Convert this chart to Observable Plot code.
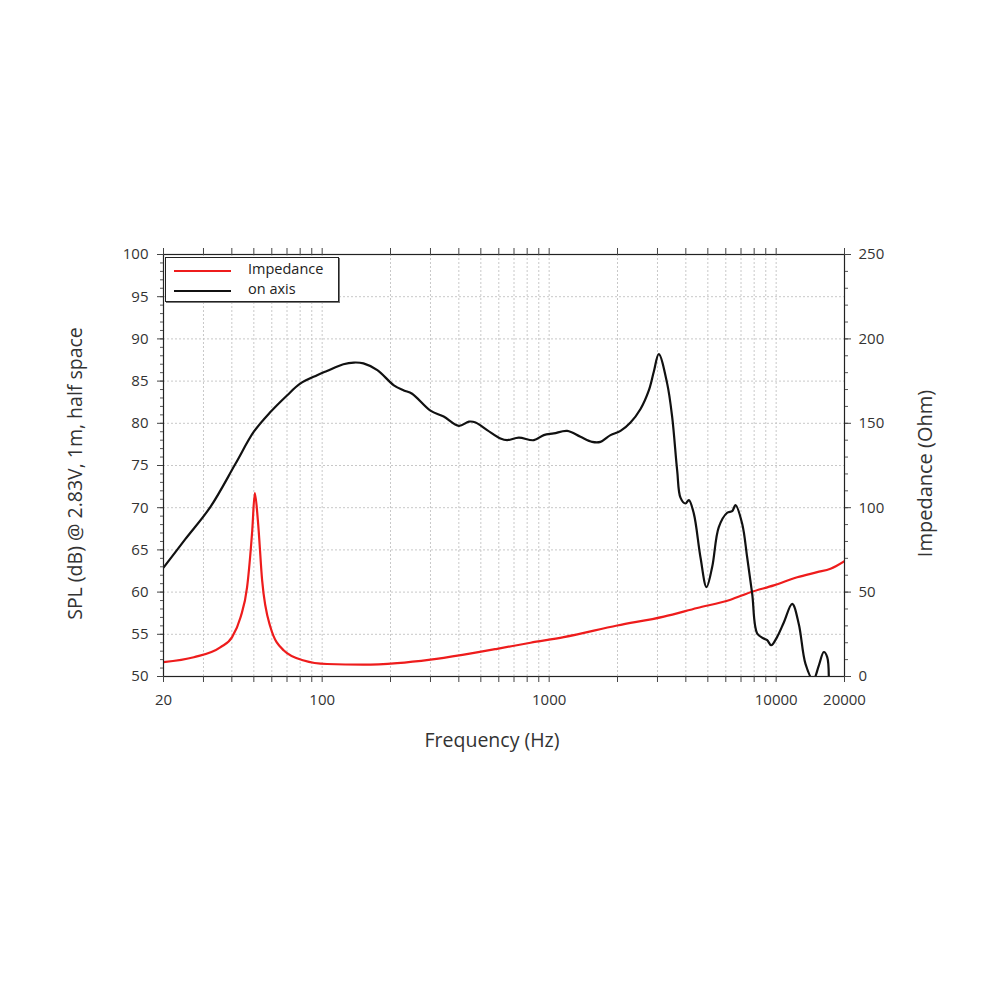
<!DOCTYPE html>
<html>
<head>
<meta charset="utf-8">
<script src="https://cdn.jsdelivr.net/npm/d3@7"></script>
<script src="https://cdn.jsdelivr.net/npm/@observablehq/plot@0.6"></script>
<style>
  body { margin: 0; background: #fff; font-family: "Open Sans", sans-serif; }
  #wrap { position: relative; width: 1000px; height: 1000px; }
  #legend { position: absolute; left: 165px; top: 257px; width: 172px; height: 43px;
            border: 1px solid #222; background: #fff; box-shadow: 1px 1px 0 #777;
            font-size: 14.5px; color: #222; }
  #legend .row { position: absolute; left: 0; height: 18px; width: 100%; }
  #legend .sw { position: absolute; left: 8px; width: 57px; height: 0; top: 9px; border-top: 2.5px solid; }
  #legend .lb { position: absolute; left: 82px; top: -1px; line-height: 18px; }
</style>
</head>
<body>
<div id="wrap"></div>
<script>
// ---- data ----
const splFreq = [20, 25, 32.2, 41.5, 50, 59, 70, 80, 95, 105, 124, 138, 152, 175, 207, 229, 249, 300, 343, 400, 443, 474, 533, 610, 653, 735, 856, 947, 1048, 1201, 1374, 1547, 1683, 1863, 2062, 2282, 2526, 2748, 2890, 3040, 3311, 3484, 3664, 3788, 3988, 4124, 4338, 4642, 4934, 5228, 5588, 6086, 6402, 6620, 7084, 7454, 7842, 8250, 8820, 9130, 9508, 10104, 10806, 11768, 12584, 13464, 14560, 15412, 16212, 16782, 17056];
const splDb   = [62.9, 66.3, 70.1, 75.2, 79.0, 81.3, 83.3, 84.7, 85.7, 86.2, 87.0, 87.2, 87.1, 86.3, 84.5, 83.9, 83.5, 81.5, 80.8, 79.7, 80.2, 80.1, 79.2, 78.2, 78.0, 78.3, 78.0, 78.6, 78.8, 79.1, 78.4, 77.8, 77.8, 78.6, 79.1, 80.1, 81.7, 83.9, 86.1, 88.2, 84.7, 80.7, 74.4, 71.2, 70.5, 70.9, 69.3, 64.1, 60.6, 63.0, 67.7, 69.4, 69.6, 70.3, 68.1, 64.1, 59.8, 55.1, 54.5, 54.3, 53.7, 54.7, 56.4, 58.6, 56.2, 51.5, 49.6, 51.3, 52.9, 52.3, 49.0];

const impFreq = [20, 27.2, 35.7, 40.1, 43.7, 46.7, 49.2, 50.5, 52.1, 54.4, 59.2, 67.8, 83, 105, 152, 214, 300, 421, 590, 828, 1160, 1994, 3200, 4488, 6293, 7708, 9763, 12378, 15160, 17352, 20000];
const impOhm  = [8.5, 11.4, 17.4, 23.3, 35.1, 52.9, 86.5, 108.6, 92.4, 56.9, 29.2, 15.4, 9.5, 7.4, 7.0, 7.9, 10.0, 13.0, 16.4, 20.0, 23.3, 30.2, 35.5, 40.6, 45.5, 49.9, 54.0, 58.8, 61.8, 63.8, 68.3];

const xTicks = [20,30,40,50,60,70,80,90,100,200,300,400,500,600,700,800,900,1000,2000,3000,4000,5000,6000,7000,8000,9000,10000,20000];
const xLabels = [20, 100, 500, 1000, 10000, 20000];
const dbTicks = [50,55,60,65,70,75,80,85,90,95,100];
const dbMinor = d3.range(50, 101, 1);
const ohmTicks = [0,50,100,150,200,250];
const ohmMinor = d3.range(0, 251, 10);

const xTitle = "Frequency (Hz)";
const yTitle = "SPL (dB) @ 2.83V, 1m, half space";
const y2Title = "Impedance (Ohm)";
const seriesNames = ["Impedance", "on axis"];
const seriesColors = ["#ee1c1c", "#111111"];

// ---- build ----
const ohmToDb = o => 50 + o / 5;
const spl = splFreq.map((f, i) => ({f, v: splDb[i]}));
const imp = impFreq.map((f, i) => ({f, v: ohmToDb(impOhm[i])}));

const chart = Plot.plot({
  width: 1000, height: 1000,
  marginLeft: 163, marginRight: 156, marginTop: 254, marginBottom: 324,
  x: {type: "log", domain: [20, 20000]},
  y: {domain: [50, 100]},
  style: {fontFamily: "Open Sans, sans-serif", fontSize: "15px", color: "#333", background: "transparent"},
  marks: [
    Plot.gridX(xTicks, {stroke: "#c8c8c8", strokeOpacity: 1, strokeDasharray: "2,2"}),
    Plot.gridY(dbTicks, {stroke: "#c8c8c8", strokeOpacity: 1, strokeDasharray: "2,2"}),
    Plot.line(imp, {x: "f", y: "v", stroke: seriesColors[0], strokeWidth: 2.2, clip: true, curve: "monotone-x"}),
    Plot.line(spl, {x: "f", y: "v", stroke: seriesColors[1], strokeWidth: 2.2, clip: true, curve: "catmull-rom"}),
    Plot.frame({stroke: "#222", strokeWidth: 1.2}),
    Plot.axisX(xTicks, {anchor: "bottom", tickSize: 6, tickPadding: 12, label: null, stroke: "#444",
      tickFormat: d => xLabels.includes(d) ? String(d) : ""}),
    Plot.axisX(xTicks, {anchor: "top", tickSize: 7, label: null, stroke: "#444", tickFormat: () => ""}),
    Plot.axisY(dbMinor, {anchor: "left", tickSize: 3, label: null, stroke: "#555", tickFormat: () => ""}),
    Plot.axisY(dbTicks, {anchor: "left", tickSize: 6, tickPadding: 9, label: null, stroke: "#444"}),
    Plot.axisY(ohmMinor.map(ohmToDb), {anchor: "right", tickSize: 3, label: null, stroke: "#555", tickFormat: () => ""}),
    Plot.axisY(ohmTicks.map(ohmToDb), {anchor: "right", tickSize: 6, tickPadding: 8, label: null, stroke: "#444",
      tickFormat: d => String(Math.round((d - 50) * 5))}),
    Plot.text([xTitle], {frameAnchor: "bottom", dx: -12, dy: 70, fontSize: 19.5, fill: "#333", textAnchor: "middle"}),
    Plot.text([yTitle], {frameAnchor: "left", dx: -88, dy: 8, rotate: -90, fontSize: 19.5, fill: "#333", textAnchor: "middle"}),
    Plot.text([y2Title], {frameAnchor: "right", dx: 81, dy: 8, rotate: -90, fontSize: 20, fill: "#333", textAnchor: "middle"})
  ]
});
const wrap = document.getElementById("wrap");
wrap.appendChild(chart);

// legend
const leg = document.createElement("div");
leg.id = "legend";
seriesNames.forEach((name, i) => {
  const row = document.createElement("div");
  row.className = "row";
  row.style.top = (3 + i * 20) + "px";
  const sw = document.createElement("div");
  sw.className = "sw";
  sw.style.borderTopColor = seriesColors[i];
  const lb = document.createElement("div");
  lb.className = "lb";
  lb.textContent = name;
  row.appendChild(sw); row.appendChild(lb);
  leg.appendChild(row);
});
wrap.appendChild(leg);
</script>
</body>
</html>
